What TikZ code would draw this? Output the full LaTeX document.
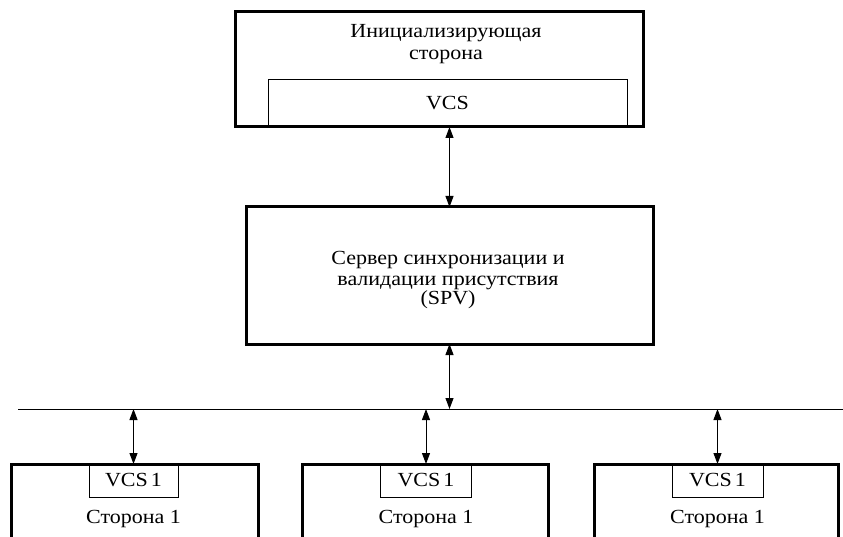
\documentclass[tikz,border=0pt]{standalone}
\usepackage{fontspec}
\setmainfont[FakeStretch=1.1]{Liberation Serif}
\usetikzlibrary{arrows.meta}
\begin{document}
\begin{tikzpicture}[x=1pt,y=-1pt,
  outerbox/.style={draw, line width=3pt, inner sep=0pt, outer sep=0pt, anchor=north west},
  innerbox/.style={draw, line width=0.9pt, inner sep=0pt, outer sep=0pt},
  lbl/.style={font=\fontsize{20}{22}\selectfont, inner sep=0pt, anchor=base},
  link/.style={line width=1pt, {Triangle[length=11pt,width=8pt]}-{Triangle[length=11pt,width=8pt]}}]
\clip (0,0) rectangle (843,537);
% top box
\node[outerbox, minimum width=408pt, minimum height=115pt] (top) at (235,12) {};
\node[innerbox, anchor=north west, minimum width=359pt, minimum height=48pt] (vcs) at (268,79) {};
\node[lbl] (toplbl1) at (446,38) {Инициализирующая};
\node[lbl] (toplbl2) at (446,60) {сторона};
\node[lbl] (vcslbl) at (447.5,110) {VCS};
\draw[line width=3pt] (top.south west) -- (top.south east);
% middle box
\node[outerbox, minimum width=407pt, minimum height=137pt] (mid) at (246,207) {};
\node[lbl] (midlbl1) at (448,265) {Сервер синхронизации и};
\node[lbl] (midlbl2) at (448,285.5) {валидации присутствия};
\node[lbl] (midlbl3) at (448,305) {(SPV)};
% bus
\coordinate (busL) at (18,409);
\coordinate (busR) at (843,409);
\draw[line width=0.9pt] (busL) -- (busR);
% arrows
\draw[link] (mid.north |- top.south) -- (mid.north);
\draw[link] (mid.south) -- (mid.south |- busL);
% bottom boxes
\node[outerbox, minimum width=247pt, minimum height=100pt] (s1) at (11,464) {};
\node[outerbox, minimum width=246pt, minimum height=100pt] (s2) at (302,464) {};
\node[outerbox, minimum width=244pt, minimum height=100pt] (s3) at (594,464) {};
\node[innerbox, anchor=north, minimum width=89pt, minimum height=33pt] (v1) at (133.5,464) {};
\node[innerbox, anchor=north, minimum width=91pt, minimum height=33pt] (v2) at (426,464) {};
\node[innerbox, anchor=north, minimum width=91pt, minimum height=33pt] (v3) at (717.5,464) {};
\foreach \v in {v1,v2,v3}{
  \node[lbl] (\v lbl) at ([yshift=-6pt]\v.center) {VCS\hspace{3pt}1};
  \node[lbl] (\v side) at ([yshift=-43pt]\v.center) {Сторона 1};
  \draw[link] (\v.north |- busL) -- (\v.north);
}
\end{tikzpicture}
\end{document}
